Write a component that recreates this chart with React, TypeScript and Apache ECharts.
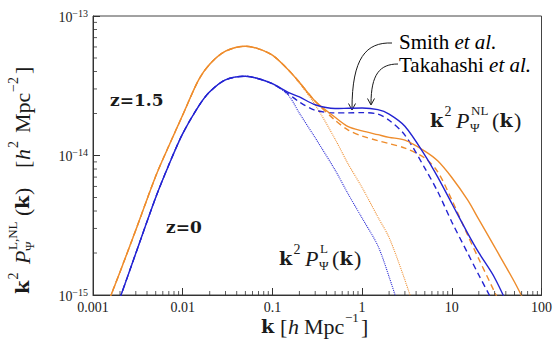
import React, { useEffect, useRef } from 'react';
import * as echarts from 'echarts';

// wavenumber grid k [h Mpc^-1]
const kGrid = [0.0015, 0.002, 0.003, 0.005, 0.007, 0.01, 0.015, 0.02, 0.03, 0.05, 0.07, 0.1, 0.15, 0.2, 0.3, 0.5, 0.7, 1, 1.5, 2, 3, 5, 7, 10, 15, 20, 30, 50, 70];

// k^2 P_Psi(k) [h^2 Mpc^-2]
const orangeTakahashi = [9.08e-16, 1.464e-15, 2.92e-15, 7.11e-15, 1.17e-14, 1.95e-14, 3.47e-14, 4.51e-14, 5.59e-14, 6.07e-14, 5.82e-14, 5.24e-14, 4.12e-14, 3.35e-14, 2.45e-14, 1.88e-14, 1.61e-14, 1.50e-14, 1.41e-14, 1.35e-14, 1.29e-14, 1.075e-14, 9.12e-15, 6.95e-15, 4.80e-15, 3.48e-15, 2.21e-15, 1.24e-15, 8.08e-16];
const orangeSmith = [9.08e-16, 1.464e-15, 2.92e-15, 7.11e-15, 1.17e-14, 1.95e-14, 3.47e-14, 4.51e-14, 5.59e-14, 6.07e-14, 5.82e-14, 5.24e-14, 4.12e-14, 3.35e-14, 2.45e-14, 1.79e-14, 1.52e-14, 1.377e-14, 1.278e-14, 1.217e-14, 1.13e-14, 9.58e-15, 7.61e-15, 4.80e-15, 2.69e-15, 1.81e-15, 1.05e-15, 5.27e-16, null];
const orangeLinear = [9.08e-16, 1.464e-15, 2.92e-15, 7.11e-15, 1.17e-14, 1.95e-14, 3.47e-14, 4.51e-14, 5.59e-14, 6.07e-14, 5.82e-14, 5.24e-14, 4.12e-14, 3.30e-14, 2.31e-14, 1.31e-14, 8.68e-15, 5.89e-15, 3.62e-15, 2.58e-15, 1.28e-15, 4.77e-16, null, null, null, null, null, null, null];
const blueTakahashi = [5.81e-16, 9.53e-16, 1.99e-15, 5.00e-15, 8.56e-15, 1.435e-14, 2.25e-14, 2.86e-14, 3.49e-14, 3.70e-14, 3.55e-14, 3.27e-14, 2.84e-14, 2.63e-14, 2.31e-14, 2.17e-14, 2.18e-14, 2.19e-14, 2.13e-14, 1.98e-14, 1.62e-14, 1.007e-14, 6.97e-15, 4.53e-15, 2.78e-15, 2.01e-15, 1.33e-15, 6.64e-16, null];
const blueSmith = [5.81e-16, 9.53e-16, 1.99e-15, 5.00e-15, 8.56e-15, 1.435e-14, 2.25e-14, 2.86e-14, 3.49e-14, 3.70e-14, 3.55e-14, 3.27e-14, 2.77e-14, 2.42e-14, 2.11e-14, 2.02e-14, 2.02e-14, 2.03e-14, 1.98e-14, 1.79e-14, 1.40e-14, 8.12e-15, 5.47e-15, 3.34e-15, 2.00e-15, 1.39e-15, 8.49e-16, null, null];
const blueLinear = [5.81e-16, 9.53e-16, 1.99e-15, 5.00e-15, 8.56e-15, 1.435e-14, 2.25e-14, 2.86e-14, 3.49e-14, 3.70e-14, 3.55e-14, 3.27e-14, 2.71e-14, 2.01e-14, 1.34e-14, 7.86e-15, 5.29e-15, 3.56e-15, 2.25e-15, 1.35e-15, 6.01e-16, null, null, null, null, null, null, null, null];

// axis ticks
const xTickLabels = ['0.001', '0.01', '0.1', '1', '10', '100'];
const xDecades = [0.001, 0.01, 0.1, 1, 10];
const yDecades = [1e-15, 1e-14];
const minorMultipliers = [2, 3, 4, 5, 6, 7, 8, 9];

const UNIT = 1e-15; // plotted in units of 1e-15 h^2 Mpc^-2

const ORANGE = '#ee8c2c';
const BLUE = '#2323d2';
const INK = '#1a1a1a';
const SERIF = '"Liberation Serif", "Times New Roman", serif';
const BOLDSERIF = '"DejaVu Serif", serif';

type Piece = { t: string; dx: number; dy?: number; s: number; f?: 'b' | 'i' | 'r' };

function mathLabel(x: number, y: number, rotation: number, pieces: Piece[]) {
  return {
    type: 'group',
    x,
    y,
    rotation,
    silent: true,
    children: pieces.map((p) => ({
      type: 'text',
      x: p.dx,
      y: p.dy ?? 0,
      style: {
        text: p.t,
        fontSize: p.s,
        lineHeight: p.s,
        fontFamily: p.f === 'b' ? BOLDSERIF : SERIF,
        fontWeight: p.f === 'b' ? 'bold' : 'normal',
        fontStyle: p.f === 'i' ? 'italic' : 'normal',
        fill: INK,
        align: 'left',
        verticalAlign: 'middle',
      },
    })),
  };
}

function toSeries(vals: (number | null)[]) {
  return kGrid.map((k, i) => [k, vals[i] == null ? '-' : (vals[i] as number) / UNIT]);
}

export default function App() {
  const ref = useRef<HTMLDivElement>(null);
  useEffect(() => {
    if (!ref.current) return;
    const chart = echarts.init(ref.current, undefined, { renderer: 'svg' });

    const lineSeries = (name: string, vals: (number | null)[], color: string, type: any, width: number, z: number) => ({
      name,
      type: 'line',
      data: toSeries(vals),
      showSymbol: false,
      smooth: 0.3,
      z,
      lineStyle: { color, width, type },
      clip: true,
      silent: true,
    });

    const xMinor = xDecades.flatMap((d) => minorMultipliers.map((m) => [m * d, yDecades[0] / UNIT]));
    const yMinor = yDecades.flatMap((d) => minorMultipliers.map((m) => [xDecades[0], (m * d) / UNIT]));

    const richText = (size: number) => ({
      r: { fontFamily: SERIF, fontSize: size, lineHeight: 17, color: INK },
      i: { fontFamily: SERIF, fontSize: size, lineHeight: 17, fontStyle: 'italic', color: INK },
    });

    const option: any = {
      animation: false,
      grid: { left: 93, top: 16, right: 11, bottom: 46, show: true, borderColor: '#444', borderWidth: 1, backgroundColor: 'transparent' },
      xAxis: {
        type: 'log',
        logBase: 10,
        min: 0.001,
        max: 100,
        axisLine: { show: true, lineStyle: { color: '#333', width: 1 } },
        axisTick: { show: true, inside: true, length: 7, lineStyle: { color: '#333' } },
        splitLine: { show: false },
        axisLabel: {
          fontFamily: SERIF,
          fontSize: 14,
          lineHeight: 12,
          color: INK,
          margin: 6,
          formatter: (v: number) => xTickLabels[Math.round(Math.log10(v)) + 3] ?? '',
        },
      },
      yAxis: {
        type: 'log',
        logBase: 10,
        min: 1,
        max: 100,
        axisLine: { show: true, lineStyle: { color: '#333', width: 1 } },
        axisTick: { show: true, inside: true, length: 7, lineStyle: { color: '#333' } },
        splitLine: { show: false },
        axisLabel: {
          margin: 5,
          color: INK,
          formatter: (v: number) => {
            const e = Math.round(Math.log10(v)) + Math.round(Math.log10(UNIT));
            return `{b|10}{sup|${e < 0 ? '−' : ''}${Math.abs(e)}}`;
          },
          rich: {
            b: { fontFamily: SERIF, fontSize: 14, lineHeight: 16, verticalAlign: 'bottom', color: INK },
            sup: { fontFamily: SERIF, fontSize: 10, verticalAlign: 'top', color: INK },
          },
        },
      },
      series: [
        lineSeries('z=0 linear', blueLinear, BLUE, [1, 1], 1.1, 2),
        lineSeries('z=1.5 linear', orangeLinear, ORANGE, [1, 1], 1.1, 2),
        lineSeries('z=1.5 Smith', orangeSmith, ORANGE, [6, 4], 1.4, 3),
        lineSeries('z=0 Smith', blueSmith, BLUE, [6, 4], 1.4, 3),
        lineSeries('z=1.5 Takahashi', orangeTakahashi, ORANGE, 'solid', 1.4, 4),
        lineSeries('z=0 Takahashi', blueTakahashi, BLUE, 'solid', 1.4, 4),
        {
          type: 'scatter',
          data: xMinor,
          symbol: 'rect',
          symbolSize: [1, 4],
          symbolOffset: [0, -2],
          itemStyle: { color: '#333' },
          silent: true,
          clip: false,
          z: 5,
        },
        {
          type: 'scatter',
          data: yMinor,
          symbol: 'rect',
          symbolSize: [4, 1],
          symbolOffset: [2, 0],
          itemStyle: { color: '#333' },
          silent: true,
          clip: false,
          z: 5,
        },
      ],
      graphic: [
        // y-axis title
        mathLabel(22, 294, Math.PI / 2, [
          { t: 'k', dx: 0, s: 19, f: 'b' },
          { t: '2', dx: 14.5, dy: -9, s: 14 },
          { t: 'P', dx: 30, s: 22, f: 'i' },
          { t: 'L,NL', dx: 44, dy: -10, s: 13 },
          { t: 'Ψ', dx: 43, dy: 7, s: 13 },
          { t: '(', dx: 78, s: 22 },
          { t: 'k', dx: 85, s: 19, f: 'b' },
          { t: ')', dx: 99, s: 22 },
          { t: '[', dx: 126, s: 22 },
          { t: 'h', dx: 134, s: 22, f: 'i' },
          { t: '2', dx: 146, dy: -9, s: 14 },
          { t: 'Mpc', dx: 161, s: 22 },
          { t: '−2', dx: 202, dy: -9, s: 14 },
          { t: ']', dx: 220, s: 22 },
        ]),
        // x-axis title
        mathLabel(261, 326, 0, [
          { t: 'k', dx: 0, s: 19, f: 'b' },
          { t: '[', dx: 19, s: 22 },
          { t: 'h', dx: 27, s: 22, f: 'i' },
          { t: 'Mpc', dx: 43, s: 22 },
          { t: '−1', dx: 84, dy: -9, s: 13 },
          { t: ']', dx: 100, s: 22 },
        ]),
        // non-linear label
        mathLabel(430, 120, 0, [
          { t: 'k', dx: 0, s: 19, f: 'b' },
          { t: '2', dx: 14.5, dy: -9, s: 14 },
          { t: 'P', dx: 26, s: 22, f: 'i' },
          { t: 'NL', dx: 41, dy: -10, s: 13 },
          { t: 'Ψ', dx: 40, dy: 7, s: 13 },
          { t: '(', dx: 62, s: 22 },
          { t: 'k', dx: 69.5, s: 19, f: 'b' },
          { t: ')', dx: 84, s: 22 },
        ]),
        // linear label
        mathLabel(279, 258, 0, [
          { t: 'k', dx: 0, s: 19, f: 'b' },
          { t: '2', dx: 14.5, dy: -9, s: 14 },
          { t: 'P', dx: 26, s: 22, f: 'i' },
          { t: 'L', dx: 41, dy: -10, s: 13 },
          { t: 'Ψ', dx: 40, dy: 7, s: 13 },
          { t: '(', dx: 53, s: 22 },
          { t: 'k', dx: 60.5, s: 19, f: 'b' },
          { t: ')', dx: 75, s: 22 },
        ]),
        {
          type: 'text',
          x: 110,
          y: 100,
          silent: true,
          style: { text: 'z=1.5', fontFamily: BOLDSERIF, fontWeight: 'bold', fontSize: 17, fill: INK, verticalAlign: 'middle' },
        },
        {
          type: 'text',
          x: 166,
          y: 227,
          silent: true,
          style: { text: 'z=0', fontFamily: BOLDSERIF, fontWeight: 'bold', fontSize: 17, fill: INK, verticalAlign: 'middle' },
        },
        {
          type: 'text',
          x: 399,
          y: 42,
          silent: true,
          style: { text: '{r|Smith }{i|et al.}', verticalAlign: 'middle', rich: richText(21) },
        },
        {
          type: 'text',
          x: 399,
          y: 65,
          silent: true,
          style: { text: '{r|Takahashi }{i|et al.}', verticalAlign: 'middle', rich: richText(21) },
        },
        {
          type: 'bezierCurve',
          silent: true,
          shape: { x1: 392, y1: 43, cpx1: 366, cpy1: 42, cpx2: 352, cpy2: 58, x2: 352, y2: 109 },
          style: { stroke: INK, lineWidth: 1, fill: 'none' },
        },
        {
          type: 'polyline',
          silent: true,
          shape: { points: [[348.5, 103.5], [352, 110], [355.5, 103.5]] },
          style: { stroke: INK, lineWidth: 1, fill: 'none' },
        },
        {
          type: 'bezierCurve',
          silent: true,
          shape: { x1: 398, y1: 64, cpx1: 380, cpy1: 64, cpx2: 371, cpy2: 74, x2: 371, y2: 104 },
          style: { stroke: INK, lineWidth: 1, fill: 'none' },
        },
        {
          type: 'polyline',
          silent: true,
          shape: { points: [[367.5, 98.5], [371, 105], [374.5, 98.5]] },
          style: { stroke: INK, lineWidth: 1, fill: 'none' },
        },
      ],
    };

    chart.setOption(option);
    return () => chart.dispose();
  }, []);

  return <div ref={ref} style={{ position: 'absolute', left: 0, top: 0, width: 555, height: 341 }} />;
}
